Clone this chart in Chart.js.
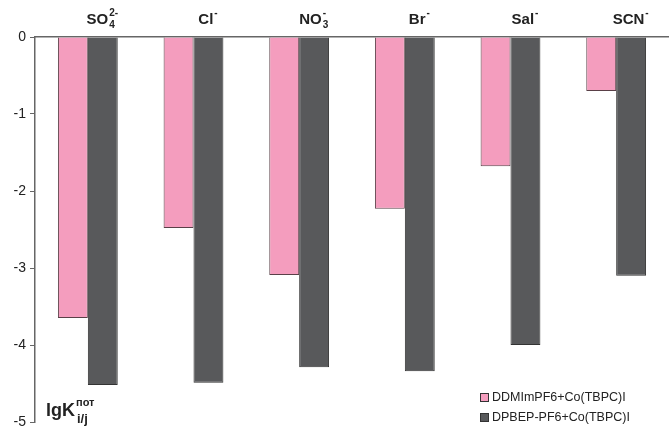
<!DOCTYPE html>
<html>
<head>
<meta charset="utf-8">
<script src="https://cdn.jsdelivr.net/npm/chart.js@4/dist/chart.umd.min.js"></script>
<style>
  html, body { margin: 0; padding: 0; background: #fff; }
  #wrap { width: 669px; height: 428px; position: relative; }
</style>
</head>
<body>
<div id="wrap"><canvas id="chart"></canvas></div>
<script>
// Anions (label parts: base, subscript, superscript)
const ionBase = ['SO', 'Cl', 'NO', 'Br', 'Sal', 'SCN'];
const ionSub = ['4', '', '3', '', '', ''];
const ionSup = ['2-', '-', '-', '-', '-', '-'];

// lgK values
const ddmim = [-3.65, -2.48, -3.09, -2.23, -1.68, -0.70];
const dpbep = [-4.52, -4.49, -4.29, -4.34, -4.00, -3.10];

const yTicks = [0, -1, -2, -3, -4, -5];

const seriesLabels = ['DDMImPF6+Co(TBPC)I', 'DPBEP-PF6+Co(TBPC)I'];
const pink = '#f49dbe';
const grey = '#58595b';

const FONT = '"Liberation Sans", Arial, sans-serif';

// Category labels above the zero line, with sub/superscripts
const ionLabels = {
  id: 'ionLabels',
  afterDraw(chart) {
    const ctx = chart.ctx;
    const x = chart.scales.x;
    ctx.save();
    ctx.fillStyle = '#222';
    ctx.textBaseline = 'alphabetic';
    ctx.textAlign = 'left';
    ionBase.forEach((base, i) => {
      ctx.font = 'bold 15px ' + FONT;
      const wBase = ctx.measureText(base).width;
      ctx.font = 'bold 10px ' + FONT;
      const wExtra = Math.max(ctx.measureText(ionSub[i]).width, ctx.measureText(ionSup[i]).width);
      const total = wBase + wExtra;
      const cx = x.getPixelForValue(i) + 14;
      const x0 = cx - total / 2;
      const baseY = 24;
      ctx.font = 'bold 15px ' + FONT;
      ctx.fillText(base, x0, baseY);
      ctx.font = 'bold 10px ' + FONT;
      if (ionSub[i]) ctx.fillText(ionSub[i], x0 + wBase + 1, baseY + 4);
      if (ionSup[i]) ctx.fillText(ionSup[i], x0 + wBase + 1, baseY - 8);
    });

    // axis title lgK^пот_i/j
    ctx.font = 'bold 18px ' + FONT;
    ctx.fillText('lgK', 46, 416);
    const wk = ctx.measureText('lgK').width;
    ctx.font = 'bold 11px ' + FONT;
    ctx.fillText('пот', 46 + wk + 1, 406);
    ctx.font = 'bold 13px ' + FONT;
    ctx.fillText('i/j', 46 + wk + 2, 423);

    // legend
    const colors = [pink, grey];
    chart.data.datasets.forEach((ds, i) => {
      const ly = 398 + i * 20;
      ctx.fillStyle = colors[i];
      ctx.fillRect(480.5, ly - 4.5, 8, 8);
      ctx.strokeStyle = '#333';
      ctx.lineWidth = 1;
      ctx.strokeRect(480.5, ly - 4.5, 8, 8);
      ctx.fillStyle = '#222';
      ctx.font = '12.5px ' + FONT;
      ctx.textBaseline = 'middle';
      ctx.fillText(ds.label, 492, ly);
    });
    ctx.restore();
  }
};

new Chart(document.getElementById('chart'), {
  type: 'bar',
  data: {
    labels: ionBase,
    datasets: [
      { label: seriesLabels[0], data: ddmim, backgroundColor: pink, borderColor: '#5a4048', borderWidth: 1 },
      { label: seriesLabels[1], data: dpbep, backgroundColor: grey, borderColor: '#333', borderWidth: 1 }
    ]
  },
  options: {
    responsive: true,
    maintainAspectRatio: false,
    animation: false,
    layout: { padding: { top: 0, right: 0, bottom: 6, left: 0 } },
    plugins: { legend: { display: false }, tooltip: { enabled: false } },
    datasets: { bar: { barPercentage: 1, categoryPercentage: 0.566 } },
    scales: {
      x: {
        position: 'top',
        grid: { display: false, drawTicks: false },
        border: { color: '#666', width: 1.5 },
        ticks: { display: false },
        afterFit(scale) { scale.height = 37; scale.paddingLeft = 0; scale.paddingRight = 0; }
      },
      y: {
        min: -5,
        max: 0,
        afterBuildTicks(scale) { scale.ticks = yTicks.map(v => ({ value: v })); },
        grid: { drawOnChartArea: false, drawTicks: true, tickLength: 5, color: '#666' },
        border: { color: '#666', width: 1.5 },
        ticks: { color: '#222', font: { family: FONT, size: 14 }, padding: 4 },
        afterFit(scale) { scale.width = 35; scale.paddingTop = 0; scale.paddingBottom = 0; }
      }
    }
  },
  plugins: [ionLabels]
});
</script>
</body>
</html>
